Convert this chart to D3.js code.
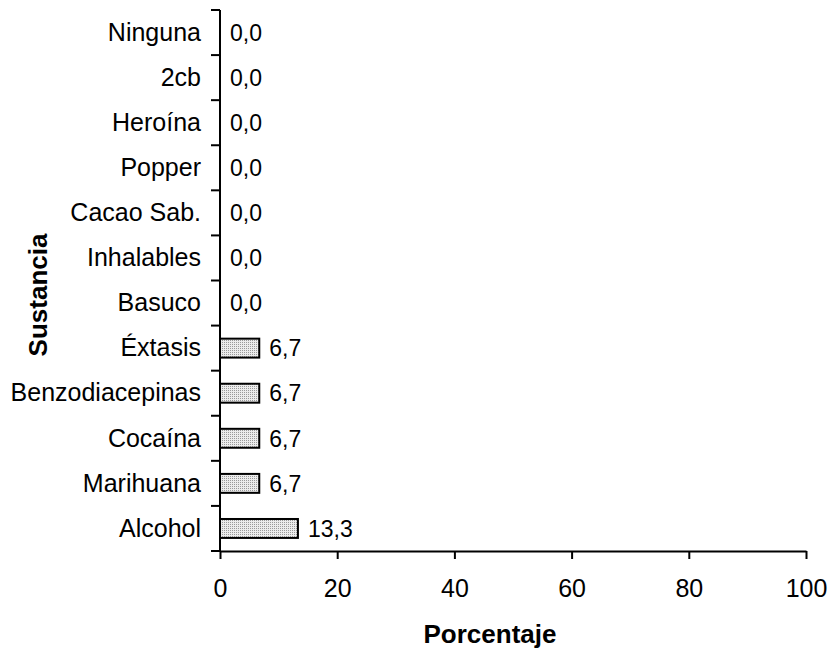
<!DOCTYPE html>
<html>
<head>
<meta charset="utf-8">
<script src="https://cdn.jsdelivr.net/npm/d3@7"></script>
<style>
  html, body { margin: 0; padding: 0; background: #fff; }
  svg { display: block; font-family: "Liberation Sans", Arial, sans-serif; }
</style>
</head>
<body>
<svg id="chart" width="829" height="649"></svg>
<script>
// Substances, listed bottom to top as drawn on the axis
const substances = ["Alcohol", "Marihuana", "Cocaína", "Benzodiacepinas", "Éxtasis",
  "Basuco", "Inhalables", "Cacao Sab.", "Popper", "Heroína", "2cb", "Ninguna"];
// Percentage reporting each substance
const percentages = [13.3, 6.7, 6.7, 6.7, 6.7, 0, 0, 0, 0, 0, 0, 0];
// X-axis ticks
const xTicks = [0, 20, 40, 60, 80, 100];

const svg = d3.select("#chart");
const margin = { left: 220, right: 23, top: 10, bottom: 98 };
const W = 829, H = 649;

const x = d3.scaleLinear().domain([0, 100]).range([margin.left, W - margin.right]);
const y = d3.scaleBand()
  .domain(substances.slice().reverse())
  .range([margin.top, H - margin.bottom])
  .paddingInner(0).paddingOuter(0);

// Stippled fill for the bars
const defs = svg.append("defs");
const pat = defs.append("pattern")
  .attr("id", "stipple").attr("patternUnits", "userSpaceOnUse")
  .attr("width", 2).attr("height", 2);
pat.append("rect").attr("width", 2).attr("height", 2).attr("fill", "#ececec");
pat.append("rect").attr("width", 1).attr("height", 1).attr("fill", "#9a9a9a");

const fmt = v => v.toFixed(1).replace(".", ",");
const data = substances.map((s, i) => ({ s, v: percentages[i] }));

// Bars
const barH = y.bandwidth() * 0.42;
svg.append("g").selectAll("rect")
  .data(data.filter(d => d.v > 0))
  .join("rect")
  .attr("x", x(0))
  .attr("y", d => y(d.s) + (y.bandwidth() - barH) / 2)
  .attr("width", d => x(d.v) - x(0))
  .attr("height", barH)
  .attr("fill", "url(#stipple)")
  .attr("stroke", "#000")
  .attr("stroke-width", 2);

// Value labels
svg.append("g").selectAll("text")
  .data(data)
  .join("text")
  .attr("x", d => x(d.v) + 10)
  .attr("y", d => y(d.s) + y.bandwidth() / 2)
  .attr("dy", "0.36em")
  .attr("font-size", 23)
  .attr("fill", "#000")
  .text(d => fmt(d.v));

// Y axis: line, ticks at category boundaries, category labels
const yAxis = svg.append("g");
const y0 = y.range()[0], y1 = y.range()[1];
yAxis.append("line")
  .attr("x1", x(0)).attr("x2", x(0)).attr("y1", y0).attr("y2", y1)
  .attr("stroke", "#000").attr("stroke-width", 2);
const bounds = d3.range(substances.length + 1).map(i => y0 + i * y.step());
yAxis.selectAll("line.tick")
  .data(bounds).join("line").attr("class", "tick")
  .attr("x1", x(0) - 9).attr("x2", x(0)).attr("y1", d => d).attr("y2", d => d)
  .attr("stroke", "#000").attr("stroke-width", 2);
yAxis.selectAll("text")
  .data(substances).join("text")
  .attr("x", x(0) - 19)
  .attr("y", d => y(d) + y.bandwidth() / 2)
  .attr("dy", "0.33em")
  .attr("text-anchor", "end")
  .attr("font-size", 25)
  .text(d => d);

// X axis
const xAxis = svg.append("g")
  .attr("transform", `translate(0,${y1})`)
  .call(d3.axisBottom(x).tickValues(xTicks).tickSize(8).tickSizeOuter(0).tickPadding(20));
xAxis.select(".domain").attr("stroke", "#000").attr("stroke-width", 2);
xAxis.selectAll(".tick line").attr("stroke", "#000").attr("stroke-width", 2);
xAxis.selectAll(".tick text")
  .attr("font-size", 25).attr("font-family", "Liberation Sans, Arial, sans-serif")
  .attr("fill", "#000");

// Axis titles
svg.append("text")
  .attr("x", (x(0) + x(100)) / 2 - 23)
  .attr("y", 643)
  .attr("text-anchor", "middle")
  .attr("font-size", 26).attr("font-weight", "bold")
  .text("Porcentaje");

svg.append("text")
  .attr("transform", "translate(47,295) rotate(-90)")
  .attr("text-anchor", "middle")
  .attr("font-size", 26).attr("font-weight", "bold")
  .text("Sustancia");
</script>
</body>
</html>
